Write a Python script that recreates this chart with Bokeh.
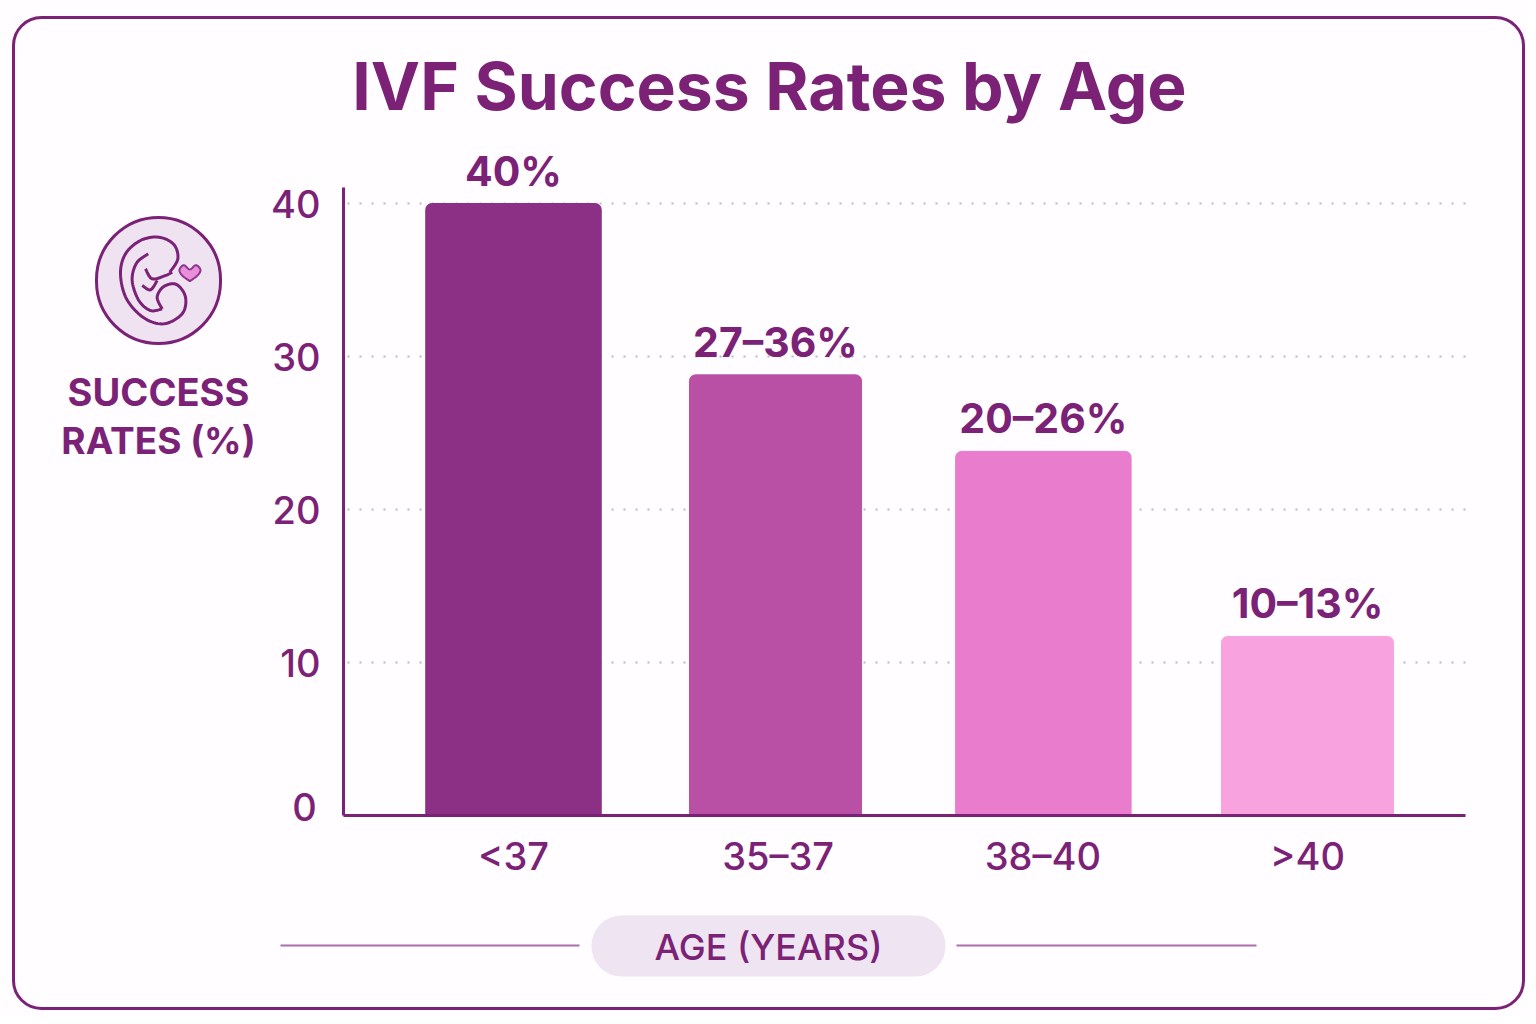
from bokeh.plotting import figure
from bokeh.models import Range1d, FixedTicker, Label, BoxAnnotation, PolyAnnotation, ColumnDataSource
from bokeh.core.properties import value
from bokeh.embed import file_html
from bokeh.resources import INLINE

categories = ["<37", "35–37", "38–40", ">40"]
bar_heights = [40, 28.8, 23.8, 11.7]
bar_labels = ["40%", "27–36%", "20–26%", "10–13%"]
bar_colors = ["#8c3086", "#b950a6", "#ea7ccd", "#f8a3e0"]
bar_centres = [0, 0.99, 2.002, 3.0]
bar_widths = [0.663, 0.65, 0.663, 0.65]
y_ticks = [0, 10, 20, 30, 40]

TXT = "#7b2277"
FONT = "Inter"
FONT_MEDIUM = "Inter Medium"
W, H = 1528, 1016
L, R, T, B = 343, 1465, 187, 815   # plot area in page pixels
STEP, UNIT = 264.67, 15.3          # pixels per category, pixels per percent
X0 = 513

def dx(x): return (x - X0) / STEP
def sx(x): return x
def sy(y): return H - y

p = figure(width=W, height=H, output_backend="svg", toolbar_location=None,
           x_range=Range1d(dx(0), dx(W)),
           y_range=Range1d(-(H - B) / UNIT, B / UNIT),
           min_border=0)
p.background_fill_color = "#fffdff"
p.border_fill_color = "#ffffff"
p.outline_line_color = None

p.xgrid.visible = False
p.ygrid.ticker = FixedTicker(ticks=[10, 20, 30, 40])
p.ygrid.grid_line_color = "#bdb9bd"
p.ygrid.grid_line_width = 2
p.ygrid.grid_line_dash = "2 10"
p.ygrid.cross_bounds = (dx(L + 4), dx(R))

src = ColumnDataSource(dict(x=bar_centres, top=bar_heights, w=bar_widths, c=bar_colors, t=bar_labels))
p.vbar(x="x", top="top", width="w", bottom=0, color="c", source=src, border_radius=(6, 6, 0, 0))
p.text(x="x", y="top", text="t", source=src, text_align="center", text_baseline="middle",
       y_offset=-33, text_color=TXT, text_font_size="41px", text_font_style="bold",
       text_font=value(FONT))

for ax in (p.xaxis[0], p.yaxis[0]):
    ax.axis_line_color = TXT
    ax.axis_line_width = 3
    ax.major_tick_line_color = None
    ax.minor_tick_line_color = None
    ax.major_label_text_color = TXT
    ax.major_label_text_font = FONT_MEDIUM
    ax.major_label_text_font_size = "38px"

p.xaxis.fixed_location = 0
p.xaxis.bounds = (dx(L), dx(R))
p.xaxis.ticker = FixedTicker(ticks=list(range(4)))
p.xaxis.major_label_overrides = {i: c for i, c in enumerate(categories)}
p.xaxis.major_label_standoff = 11
p.yaxis.fixed_location = dx(L)
p.yaxis.bounds = (0, (B - T) / UNIT)
p.yaxis.ticker = FixedTicker(ticks=y_ticks)
p.yaxis.major_label_overrides = {0: ""}
p.yaxis.major_label_standoff = 17

def label(text, x, y, size, bold=False, font=FONT):
    p.add_layout(Label(x=sx(x), y=sy(y), x_units="screen", y_units="screen", text=text,
                       text_align="center", text_baseline="middle", text_color=TXT,
                       text_font=font, text_font_size=size,
                       text_font_style="bold" if bold else "normal"))

def box(l, r, t, b, fill, line=None, lw=0, radius=0):
    p.add_layout(BoxAnnotation(left=sx(l), right=sx(r), top=sy(t), bottom=sy(b),
                               left_units="screen", right_units="screen",
                               top_units="screen", bottom_units="screen",
                               fill_color=fill, fill_alpha=1 if fill else 0,
                               line_color=line, line_width=lw, line_alpha=1 if line else 0,
                               border_radius=radius, level="underlay", editable=False))

def smooth(points, n=10):
    pts = [points[0]] + list(points) + [points[-1]]
    out = []
    for i in range(1, len(pts) - 2):
        p0, p1, p2, p3 = pts[i - 1], pts[i], pts[i + 1], pts[i + 2]
        for k in range(n):
            t = k / n
            out.append(tuple(0.5 * (2 * p1[a] + (p2[a] - p0[a]) * t +
                                    (2 * p0[a] - 5 * p1[a] + 4 * p2[a] - p3[a]) * t * t +
                                    (3 * p1[a] - p0[a] - 3 * p2[a] + p3[a]) * t ** 3) for a in (0, 1)))
    out.append(points[-1])
    return out

def stroke(points, color=TXT, lw=3, fill=None, closed=False):
    # zoom-crop coordinates of the icon -> page pixels
    path = [(50 + a / 3, 200 + b / 3) for a, b in smooth(points)]
    if not closed:
        path = path + path[::-1]
    p.add_layout(PolyAnnotation(xs=[sx(a) for a, b in path], ys=[sy(b) for a, b in path],
                                xs_units="screen", ys_units="screen",
                                line_color=color, line_width=lw, line_alpha=1,
                                fill_color=fill or "#ffffff", fill_alpha=1 if fill else 0,
                                level="overlay", editable=False))

# card, title
box(13, 1523, 17, 1008, None, "#7b2277", 3, 28)
label("IVF Success Rates by Age", 769, 85, "66px", True)

# y tick label of zero sits above the baseline
label("0", 304, 806, "38px", font=FONT_MEDIUM)

# side label and icon
label("SUCCESS", 158, 391, "38px", True)
label("RATES (%)", 158, 440, "37px", True)
box(96, 220, 217, 343, "#efe3f1", "#7b2277", 3, 62)
stroke([(358, 215), (382, 175), (370, 132), (325, 110), (270, 120), (225, 160), (210, 220),
        (228, 295), (280, 352), (340, 370), (395, 340), (405, 290), (378, 252), (340, 258),
        (320, 290), (335, 325)])
stroke([(293, 160), (258, 188), (245, 240), (265, 300), (300, 330), (335, 325)])
stroke([(285, 205), (305, 235), (345, 225), (365, 215)])
stroke([(275, 255), (300, 268), (320, 240)])
stroke([(418, 242), (395, 225), (387, 208), (400, 194), (418, 207), (436, 194), (450, 208), (441, 225), (418, 242)],
       color="#8f358f", lw=2, fill="#e78fd8", closed=True)

# x axis title
box(591, 945, 915, 976, "#efe4f1", None, 0, 30)
label("AGE (YEARS)", 768, 946, "36px", font=FONT_MEDIUM)
box(280, 579, 944, 946, "#a86fab")
box(956, 1256, 944, 946, "#a86fab")

open("out.html", "w").write(file_html(p, INLINE))
